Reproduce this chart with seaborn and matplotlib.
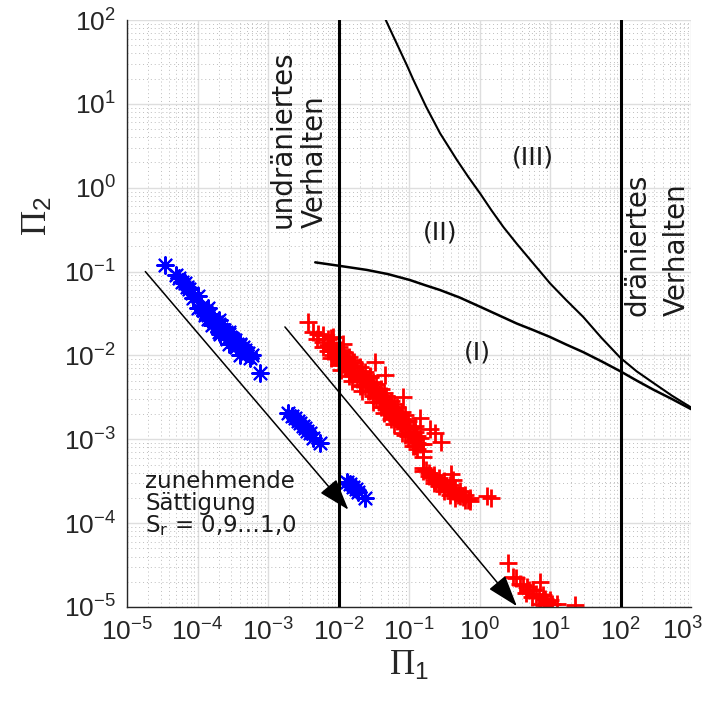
import numpy as np
import matplotlib
matplotlib.use("Agg")
import matplotlib.pyplot as plt
import seaborn as sns
from matplotlib.ticker import LogLocator, NullFormatter, FuncFormatter

# ---------------- data (log10 values) ----------------
blue_log_pi1 = [-4.46, -4.30, -4.26, -4.22, -4.18, -4.15, -4.12, -4.08, -4.06, -3.95,
                -3.92, -3.90, -3.88, -3.85, -3.82, -3.80, -3.80, -3.78, -3.74, -3.72,
                -3.70, -3.68, -3.66, -3.63, -3.60, -3.58, -3.56, -3.54, -3.50, -3.47,
                -3.46, -3.44, -3.40, -3.36, -3.33, -3.28, -3.25, -3.22, -3.11,
                -4.00, -4.00, -3.85, -3.85, -3.70, -3.70, -3.55, -3.55, -3.40, -3.40,
                -2.71, -2.66, -2.62, -2.58, -2.55, -2.50, -2.48, -2.44, -2.40, -2.36, -2.26,
                -1.88, -1.84, -1.79, -1.75, -1.72, -1.62]
blue_log_pi2 = [-0.92, -1.04, -1.08, -1.12, -1.14, -1.18, -1.21, -1.26, -1.32, -1.42,
                -1.46, -1.52, -1.48, -1.52, -1.50, -1.56, -1.64, -1.58, -1.60, -1.64,
                -1.62, -1.74, -1.68, -1.70, -1.72, -1.80, -1.74, -1.78, -1.80, -1.82,
                -1.90, -1.86, -1.88, -1.90, -1.94, -1.97, -2.03, -2.00, -2.21,
                -1.29, -1.43, -1.43, -1.57, -1.58, -1.72, -1.72, -1.86, -1.86, -2.00,
                -2.69, -2.72, -2.75, -2.78, -2.81, -2.84, -2.87, -2.90, -2.93, -2.99, -3.05,
                -3.51, -3.53, -3.57, -3.59, -3.63, -3.70]

red_log_pi1 = [-2.43, -2.36, -2.29, -1.93, -2.30,
               -2.22, -2.22, -2.22, -2.15, -2.15, -2.15,
               -2.08, -2.08, -2.08, -2.08, -2.00, -2.00, -2.00, -2.00,
               -1.93, -1.93, -1.93, -1.85, -1.85, -1.85, -1.85,
               -1.78, -1.78, -1.78, -1.70, -1.70, -1.70, -1.70,
               -1.62, -1.62, -1.62, -1.55, -1.55, -1.55, -1.55,
               -1.47, -1.47, -1.47, -1.40, -1.40, -1.40, -1.40,
               -1.32, -1.32, -1.32, -1.25, -1.25, -1.25, -1.25,
               -1.17, -1.17, -1.17, -1.10, -1.10, -1.10, -1.10,
               -1.02, -1.02, -1.02, -0.95, -0.95, -0.95, -0.95,
               -0.88, -0.88, -0.88, -0.80, -0.80, -0.80,
               -2.11, -2.11, -2.04, -2.04, -1.96, -1.96, -1.89, -1.89, -1.81, -1.81,
               -1.74, -1.74, -1.66, -1.66, -1.58, -1.58, -1.51, -1.51, -1.43, -1.43,
               -1.36, -1.36, -1.28, -1.28, -1.21, -1.21, -1.13, -1.13, -1.06, -1.06,
               -0.98, -0.98, -0.91, -0.91, -0.84, -0.84,
               -2.11, -2.11, -1.96, -1.96, -1.81, -1.81, -1.66, -1.66, -1.51, -1.51,
               -1.36, -1.36, -1.21, -1.21, -1.06, -1.06, -0.91, -0.91,
               -1.48, -1.34, -1.08, -0.84, -0.70, -0.63, -0.54,
               -0.80, -0.80, -0.72, -0.72, -0.65, -0.65, -0.65, -0.58, -0.58, -0.58,
               -0.50, -0.50, -0.50, -0.42, -0.42, -0.42, -0.40, -0.37, -0.35, -0.35, -0.35,
               -0.28, -0.28, -0.20, -0.20, -0.14, -0.14, 0.10, 0.17,
               -0.76, -0.68, -0.61, -0.54, -0.46, -0.38, -0.31, -0.24, -0.17,
               0.41, 0.48, 0.52, 0.57, 0.62, 0.67, 0.70, 0.76, 0.80, 0.86, 0.84, 0.90,
               0.93, 0.96, 1.00, 0.86, 1.03, 1.10, 1.36, 0.74, 0.66, 0.92]
red_log_pi2 = [-1.60, -1.72, -1.74, -1.86, -1.80,
               -1.76, -1.84, -1.90, -1.80, -1.88, -1.95,
               -1.85, -1.92, -2.00, -1.78, -1.90, -1.98, -2.05, -2.12,
               -1.96, -2.04, -2.10, -2.02, -2.10, -2.18, -2.25,
               -2.08, -2.15, -2.22, -2.14, -2.22, -2.30, -2.36,
               -2.20, -2.28, -2.36, -2.26, -2.35, -2.42, -2.25,
               -2.34, -2.42, -2.50, -2.40, -2.48, -2.56, -2.62,
               -2.48, -2.56, -2.64, -2.54, -2.62, -2.70, -2.76,
               -2.62, -2.70, -2.78, -2.68, -2.76, -2.84, -2.92,
               -2.78, -2.86, -2.96, -2.86, -2.94, -3.02, -3.08,
               -2.96, -3.04, -3.12, -3.06, -3.14, -3.21,
               -1.87, -1.95, -1.93, -2.02, -2.00, -2.09, -2.06, -2.15, -2.13, -2.22,
               -2.19, -2.28, -2.26, -2.35, -2.33, -2.42, -2.39, -2.48, -2.46, -2.55,
               -2.52, -2.61, -2.59, -2.68, -2.65, -2.74, -2.72, -2.81, -2.78, -2.87,
               -2.85, -2.94, -2.91, -3.00, -2.98, -3.06,
               -1.79, -2.03, -1.93, -2.17, -2.06, -2.30, -2.19, -2.43, -2.32, -2.56,
               -2.45, -2.69, -2.58, -2.82, -2.71, -2.95, -2.84, -3.08,
               -2.08, -2.23, -2.49, -2.75, -2.88, -2.93, -3.03,
               -3.34, -3.38, -3.40, -3.44, -3.42, -3.48, -3.52, -3.46, -3.52, -3.56,
               -3.50, -3.56, -3.62, -3.55, -3.60, -3.66, -3.41, -3.49, -3.58, -3.64, -3.70,
               -3.62, -3.68, -3.66, -3.72, -3.70, -3.74, -3.68, -3.70,
               -3.37, -3.45, -3.50, -3.53, -3.58, -3.62, -3.66, -3.69, -3.72,
               -4.48, -4.64, -4.66, -4.72, -4.74, -4.76, -4.80, -4.80, -4.84, -4.70, -4.88, -4.86,
               -4.90, -4.94, -4.92, -4.96, -4.97, -4.96, -4.98, -4.88, -4.83, -4.98]

# boundary curves
upper_log_pi1 = [-1.33, -1.23, -1.13, -1.03, -0.94, -0.85, -0.76, -0.66, -0.56, -0.44, -0.32,
                 -0.16, 0.01, 0.17, 0.34, 0.53, 0.72, 0.86, 1.00, 1.23, 1.47, 1.73, 2.00,
                 2.23, 2.47, 2.73, 3.00]
upper_log_pi2 = [2.00, 1.82, 1.64, 1.46, 1.29, 1.13, 0.97, 0.81, 0.65, 0.49, 0.33,
                 0.13, -0.07, -0.27, -0.47, -0.67, -0.86, -1.00, -1.14, -1.34, -1.54, -1.79, -2.03,
                 -2.19, -2.33, -2.48, -2.62]
lower_log_pi1 = [-2.33, -2.00, -1.60, -1.30, -0.99, -0.78, -0.56, -0.28, 0.01, 0.27, 0.53,
                 0.77, 1.00, 1.23, 1.47, 1.73, 2.00, 2.23, 2.47, 2.73, 3.00]
lower_log_pi2 = [-0.89, -0.93, -0.98, -1.03, -1.10, -1.16, -1.22, -1.31, -1.42, -1.52, -1.62,
                 -1.70, -1.78, -1.87, -1.96, -2.07, -2.19, -2.30, -2.41, -2.52, -2.64]

# limits of undrained / drained behaviour
vline_pi1 = [1e-2, 1e2]

# arrows "zunehmende Sättigung"
arrow_start_log_pi1 = [-4.74, -2.76]
arrow_start_log_pi2 = [-1.00, -1.66]
arrow_end_log_pi1 = [-1.86, 0.53]
arrow_end_log_pi2 = [-3.84, -4.99]

x_limits = [1e-5, 1e3]
y_limits = [1e-5, 1e2]

# ---------------- style ----------------
sns.set_style("white")
plt.rcParams.update({
    "font.family": ["DejaVu Sans"],
    "mathtext.fontset": "custom",
    "mathtext.rm": "Liberation Serif",
    "mathtext.it": "Liberation Serif:italic",
    "mathtext.sf": "Liberation Sans",
    "axes.unicode_minus": True,
})

fig = plt.figure(figsize=(7.10, 7.13), dpi=100)
ax = fig.add_axes([127 / 710, 106 / 713, 564 / 710, 587 / 713])
ax.set_xscale("log")
ax.set_yscale("log")
ax.set_xlim(x_limits)
ax.set_ylim(y_limits)

ax.xaxis.set_major_locator(LogLocator(base=10, numticks=20))
ax.yaxis.set_major_locator(LogLocator(base=10, numticks=20))
ax.xaxis.set_minor_locator(LogLocator(base=10, subs=np.arange(2, 10), numticks=200))
ax.yaxis.set_minor_locator(LogLocator(base=10, subs=np.arange(2, 10), numticks=200))
ax.xaxis.set_minor_formatter(NullFormatter())
ax.yaxis.set_minor_formatter(NullFormatter())


def sci_label(v, pos):
    e = int(round(np.log10(v)))
    return r"$\mathdefault{10^{%d}}$" % e


def sci_label_x(v, pos):
    if v > x_limits[1] * 0.99:
        return ""
    return sci_label(v, pos)


ax.xaxis.set_major_formatter(FuncFormatter(sci_label_x))
ax.yaxis.set_major_formatter(FuncFormatter(sci_label))

ax.grid(True, which="major", color="#dedede", lw=1.0, ls="-")
ax.grid(True, which="minor", color="#bdbdbd", lw=0.7, ls=(0, (1, 3)))
ax.set_axisbelow(True)

for s in ["top", "right"]:
    ax.spines[s].set_visible(False)
for s in ["left", "bottom"]:
    ax.spines[s].set_color("#262626")
    ax.spines[s].set_linewidth(1.0)

ax.tick_params(which="both", direction="in", top=False, right=False, colors="#262626",
               labelsize=19, labelfontfamily="Liberation Sans")
ax.tick_params(which="major", length=6, width=0.9, pad=8)
ax.tick_params(which="minor", length=3.5, width=0.7)

# last x tick label, kept inside the figure as in the reference
ax.text(0.985, -0.0185, r"$\mathdefault{10^{3}}$", transform=ax.transAxes, ha="center", va="top",
        fontsize=19, family="Liberation Sans", color="#262626")

# ---------------- marks ----------------
sns.scatterplot(x=10 ** np.array(blue_log_pi1), y=10 ** np.array(blue_log_pi2), marker=(8, 2, 0),
                s=145, color="#0000ff", linewidth=1.5, ax=ax, legend=False, zorder=2)
sns.scatterplot(x=10 ** np.array(red_log_pi1), y=10 ** np.array(red_log_pi2), marker="+",
                s=160, color="#ff0000", linewidth=2.0, ax=ax, legend=False, zorder=2)

sns.lineplot(x=10 ** np.array(upper_log_pi1), y=10 ** np.array(upper_log_pi2), sort=False,
             estimator=None, color="black", lw=1.5, ax=ax, zorder=3)
sns.lineplot(x=10 ** np.array(lower_log_pi1), y=10 ** np.array(lower_log_pi2), sort=False,
             estimator=None, color="black", lw=1.8, ax=ax, zorder=3)
for xv in vline_pi1:
    ax.axvline(xv, color="black", lw=2.2, zorder=3)

for x0, y0, x1, y1 in zip(arrow_start_log_pi1, arrow_start_log_pi2, arrow_end_log_pi1, arrow_end_log_pi2):
    ax.annotate("", xy=(10 ** x1, 10 ** y1), xytext=(10 ** x0, 10 ** y0),
                arrowprops=dict(arrowstyle="-|>,head_length=0.9,head_width=0.3", color="black",
                                lw=1.1, mutation_scale=22, shrinkA=0, shrinkB=0), zorder=4)

# ---------------- texts ----------------
tkw = dict(transform=ax.transAxes, color="#1a1a1a")
ax.text(0.2766, 0.6457, "undräniertes", rotation=90, ha="center", va="bottom", fontsize=20, **tkw)
ax.text(0.3333, 0.6457, "Verhalten", rotation=90, ha="center", va="bottom", fontsize=20, **tkw)
ax.text(0.906, 0.4957, "dräniertes", rotation=90, ha="center", va="bottom", fontsize=20, **tkw)
ax.text(0.975, 0.4957, "Verhalten", rotation=90, ha="center", va="bottom", fontsize=20, **tkw)
ax.text(0.720, 0.7666, "(III)", ha="center", va="center", fontsize=18, **tkw)
ax.text(0.555, 0.6388, "(II)", ha="center", va="center", fontsize=18, **tkw)
ax.text(0.6206, 0.4344, "(I)", ha="center", va="center", fontsize=18, **tkw)
ax.text(0.032, 0.2334, "zunehmende\nSättigung\nS$_\\mathdefault{r}$ = 0,9…1,0", ha="left", va="top",
        fontsize=16.5, linespacing=0.95, **tkw)

ax.set_xlabel(r"$\Pi_{\mathsf{1}}$", fontsize=25, color="#262626")
ax.set_ylabel(r"$\Pi_{\mathsf{2}}$", fontsize=25, color="#262626", rotation=90)
ax.xaxis.set_label_coords(0.5, -0.07)
ax.yaxis.set_label_coords(-0.13, 0.665)

fig.savefig("out.png", dpi=100)
